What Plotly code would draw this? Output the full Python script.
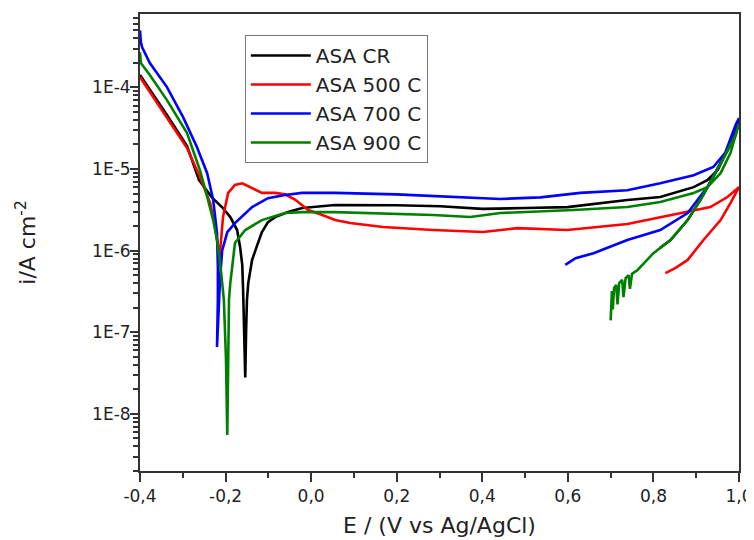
import plotly.graph_objects as go

# ---------------- data ----------------
series_names = ["ASA CR", "ASA 500 C", "ASA 700 C", "ASA 900 C"]
series_colors = ["#000000", "#ff0000", "#0000ff", "#008000"]

cr_E = [-0.400, -0.365, -0.337, -0.290, -0.262, -0.232, -0.208, -0.189, -0.173, -0.166,
        -0.161, -0.159, -0.157, -0.154, -0.152, -0.150, -0.147, -0.138, -0.126, -0.115,
        -0.101, -0.084, -0.054, -0.021, 0.056, 0.199, 0.302, 0.400, 0.501, 0.599,
        0.739, 0.816, 0.894, 0.926, 0.950, 0.973, 0.996, 1.000,
        0.992, 0.968, 0.940, 0.910, 0.880, 0.840, 0.815]
cr_i = [1.42e-4, 7.6e-5, 4.6e-5, 1.91e-5, 7.3e-6, 4.5e-6, 3.4e-6, 2.58e-6, 1.79e-6, 1.1e-6,
        6.7e-7, 3.3e-7, 1.4e-7, 2.8e-8, 1.06e-7, 2.5e-7, 4.0e-7, 7.7e-7, 1.17e-6, 1.69e-6,
        2.24e-6, 2.58e-6, 2.97e-6, 3.33e-6, 3.62e-6, 3.6e-6, 3.5e-6, 3.25e-6, 3.33e-6, 3.42e-6,
        4.17e-6, 4.54e-6, 6.0e-6, 7.3e-6, 9.7e-6, 1.71e-5, 3.46e-5, 3.8e-5,
        2.6e-5, 1.49e-5, 8.0e-6, 4.2e-6, 2.37e-6, 1.35e-6, 1.08e-6]

a500_E = [-0.400, -0.365, -0.337, -0.290, -0.260, -0.236, -0.225, -0.218, -0.215, -0.213,
          -0.206, -0.194, -0.178, -0.161, -0.138, -0.115, -0.084, -0.061, -0.037, -0.007,
          0.026, 0.056, 0.091, 0.168, 0.285, 0.402, 0.482, 0.599, 0.739, 0.816,
          0.894, 0.933, 0.973, 1.000,
          0.980, 0.957, 0.917, 0.880, 0.851, 0.828]
a500_i = [1.34e-4, 7.1e-5, 4.3e-5, 1.81e-5, 8.0e-6, 3.83e-6, 2.06e-6, 1.17e-6, 7.2e-7, 1.0e-6,
          2.58e-6, 5.1e-6, 6.4e-6, 6.7e-6, 5.85e-6, 5.1e-6, 5.1e-6, 4.9e-6, 4.2e-6, 3.15e-6,
          2.73e-6, 2.37e-6, 2.18e-6, 1.95e-6, 1.79e-6, 1.69e-6, 1.89e-6, 1.79e-6, 2.12e-6, 2.58e-6,
          3.15e-6, 3.42e-6, 4.54e-6, 6.0e-6,
          3.83e-6, 2.37e-6, 1.35e-6, 7.7e-7, 6.1e-7, 5.3e-7]

a700_E = [-0.400, -0.398, -0.395, -0.377, -0.337, -0.299, -0.267, -0.243, -0.229, -0.220,
          -0.218, -0.218, -0.220, -0.215, -0.213, -0.208, -0.196, -0.178, -0.138, -0.101,
          -0.061, -0.021, 0.056, 0.199, 0.302, 0.442, 0.536, 0.629, 0.739, 0.816,
          0.894, 0.940, 0.973, 0.987, 1.000,
          0.992, 0.964, 0.926, 0.880, 0.816, 0.739, 0.660, 0.618, 0.594]
a700_i = [5.0e-4, 3.6e-4, 3.1e-4, 1.99e-4, 1.01e-4, 4.3e-5, 1.86e-5, 8.9e-6, 4.2e-6, 1.64e-6,
          6.3e-7, 2.5e-7, 6.6e-8, 2.5e-7, 4.4e-7, 1.0e-6, 1.69e-6, 2.18e-6, 3.42e-6, 4.4e-6,
          4.8e-6, 5.1e-6, 5.1e-6, 4.9e-6, 4.67e-6, 4.3e-6, 4.5e-6, 5.1e-6, 5.5e-6, 6.7e-6,
          8.4e-6, 1.06e-5, 1.71e-5, 2.76e-5, 4.2e-5,
          3.46e-5, 1.4e-5, 6.0e-6, 2.89e-6, 1.79e-6, 1.35e-6, 9.3e-7, 8.1e-7, 6.7e-7]

a900_E = [-0.400, -0.398, -0.377, -0.337, -0.290, -0.260, -0.241, -0.229, -0.220, -0.211,
          -0.204, -0.199, -0.196, -0.194, -0.192, -0.189, -0.182, -0.178, -0.154, -0.115,
          -0.061, -0.021, 0.056, 0.131, 0.285, 0.372, 0.442, 0.613, 0.739, 0.816,
          0.894, 0.926, 0.957, 0.980, 1.000,
          0.992, 0.968, 0.940, 0.910, 0.880, 0.840, 0.800, 0.763, 0.750, 0.745,
          0.742, 0.735, 0.730, 0.727, 0.720, 0.716, 0.713, 0.708, 0.705, 0.703, 0.700]
a900_i = [2.7e-4, 1.99e-4, 1.42e-4, 7.0e-5, 2.76e-5, 9.7e-6, 4.2e-6, 2.37e-6, 1.35e-6, 5.8e-7,
          2.5e-7, 4.6e-8, 5.5e-9, 8.0e-8, 2.5e-7, 4.0e-7, 7.7e-7, 1.24e-6, 1.79e-6, 2.37e-6,
          2.89e-6, 2.97e-6, 2.97e-6, 2.89e-6, 2.73e-6, 2.58e-6, 2.89e-6, 3.15e-6, 3.42e-6, 3.94e-6,
          5.1e-6, 6.0e-6, 8.9e-6, 1.57e-5, 3.6e-5,
          2.6e-5, 1.49e-5, 8.0e-6, 4.2e-6, 2.37e-6, 1.35e-6, 9.3e-7, 5.8e-7, 5.2e-7, 3.4e-7,
          5.0e-7, 4.6e-7, 2.7e-7, 4.4e-7, 4.0e-7, 2.2e-7, 3.8e-7, 3.5e-7, 1.9e-7, 3.2e-7, 1.4e-7]

x_tick_vals = [-0.4, -0.2, 0.0, 0.2, 0.4, 0.6, 0.8, 1.0]
x_tick_text = ["-0,4", "-0,2", "0,0", "0,2", "0,4", "0,6", "0,8", "1,0"]
y_tick_vals = [1e-8, 1e-7, 1e-6, 1e-5, 1e-4]
y_tick_text = ["1E-8", "1E-7", "1E-6", "1E-5", "1E-4"]

# ---------------- figure ----------------
FONT = "DejaVu Sans"
TXT = "#222222"
AX = "#333333"

fig = go.Figure()
all_E = [cr_E, a500_E, a700_E, a900_E]
all_i = [cr_i, a500_i, a700_i, a900_i]
for name, color, E, I in zip(series_names, series_colors, all_E, all_i):
    fig.add_trace(go.Scatter(x=E, y=I, mode="lines", name=name,
                             line=dict(color=color, width=2.6)))

# the page body adds an 8 px margin, so the figure is 8 px smaller on each axis
fig.update_layout(
    width=746, height=532,
    margin=dict(l=132, r=15, t=6, b=69, autoexpand=False),
    paper_bgcolor="white", plot_bgcolor="white",
    font=dict(family=FONT, color=TXT, size=17),
    showlegend=True,
    legend=dict(x=0.175, y=0.954, xanchor="left", yanchor="top",
                bordercolor="#777777", borderwidth=1, bgcolor="white",
                font=dict(family=FONT, size=20, color=TXT),
                itemwidth=60, tracegroupgap=0),
)

fig.update_xaxes(
    range=[-0.4, 1.0], showgrid=False, zeroline=False, automargin=False,
    showline=True, linecolor=AX, linewidth=2, mirror=True,
    tickmode="array", tickvals=x_tick_vals, ticktext=x_tick_text,
    ticks="outside", ticklen=9, tickwidth=2, tickcolor=AX,
    tickfont=dict(family=FONT, size=17, color=TXT),
    minor=dict(ticks="outside", ticklen=5, tickwidth=1.5, tickcolor=AX, dtick=0.1, tick0=0),
    title=dict(text="E / (V vs Ag/AgCl)", font=dict(family=FONT, size=22, color=TXT), standoff=12),
)
fig.update_yaxes(
    type="log", range=[-8.70, -3.10], showgrid=False, zeroline=False, automargin=False,
    showline=True, linecolor=AX, linewidth=2, mirror=True,
    tickmode="array", tickvals=y_tick_vals, ticktext=y_tick_text,
    ticks="outside", ticklen=8, tickwidth=2, tickcolor=AX, ticklabelstandoff=-4,
    tickfont=dict(family=FONT, size=17, color=TXT),
    minor=dict(ticks="outside", ticklen=5, tickwidth=1.5, tickcolor=AX, dtick="D1"),
    title=dict(text="i/A cm<sup>-2</sup>", font=dict(family=FONT, size=22, color=TXT), standoff=50),
)

fig.write_html("out.html")
